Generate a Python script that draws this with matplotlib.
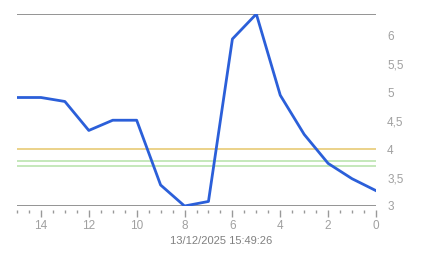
import matplotlib.pyplot as plt
from matplotlib.ticker import MultipleLocator, FuncFormatter

# values (x = hours ago, axis reversed)
hours = [15, 14, 13, 12, 11, 10, 9, 8, 7, 6, 5, 4, 3, 2, 1, 0]
values = [4.91, 4.91, 4.84, 4.33, 4.51, 4.51, 3.37, 3.0, 3.08, 5.94, 6.38, 4.95, 4.26, 3.75, 3.48, 3.27]

# reference levels
levels = [4.0, 3.8, 3.7]
level_colors = ['#e6c66a', '#b5e2a8', '#b5e2a8']

timestamp = "13/12/2025 15:49:26"

plt.rcParams['font.family'] = ['Liberation Sans', 'DejaVu Sans']

fig = plt.figure(figsize=(4.43, 2.58), dpi=100)
ax = fig.add_axes([17 / 443, 52 / 258, 359 / 443, 192 / 258])

ymin = min(values)
ymax = max(values)

for lv, c in zip(levels, level_colors):
    ax.axhline(lv, color=c, lw=1.1, zorder=1)
ax.axhline(ymin, color='#777777', lw=1.1, zorder=2)
ax.axhline(ymax, color='#777777', lw=1.1, zorder=2)

ax.plot(hours, values, color='#2b5fd9', lw=2, zorder=3, solid_joinstyle='round')

ax.set_xlim(15, 0)
ax.set_ylim(ymin, ymax)

for s in ['left', 'right', 'top']:
    ax.spines[s].set_visible(False)
ax.spines['bottom'].set_position(('outward', 3))
ax.spines['bottom'].set_visible(False)

ax.xaxis.set_major_locator(MultipleLocator(2))
ax.xaxis.set_minor_locator(MultipleLocator(0.5))
ax.yaxis.set_major_locator(MultipleLocator(0.5))
ax.yaxis.tick_right()

fmt = FuncFormatter(lambda v, p: f"{v:g}".replace('.', ','))
ax.xaxis.set_major_formatter(FuncFormatter(lambda v, p: f"{v:g}"))
ax.yaxis.set_major_formatter(fmt)

ax.tick_params(axis='x', which='major', length=5, width=1, color='#999999',
               labelcolor='#a0a0a0', labelsize=8.5, pad=2)
ax.tick_params(axis='x', which='minor', length=2, width=1, color='#999999')
ax.tick_params(axis='y', which='both', length=0, labelcolor='#a0a0a0',
               labelsize=8.5, pad=8)

fig.text(0.5, 1 - 241 / 258, timestamp, color='#808080', fontsize=8,
         ha='center', va='center')

fig.savefig('out.png', dpi=100)
